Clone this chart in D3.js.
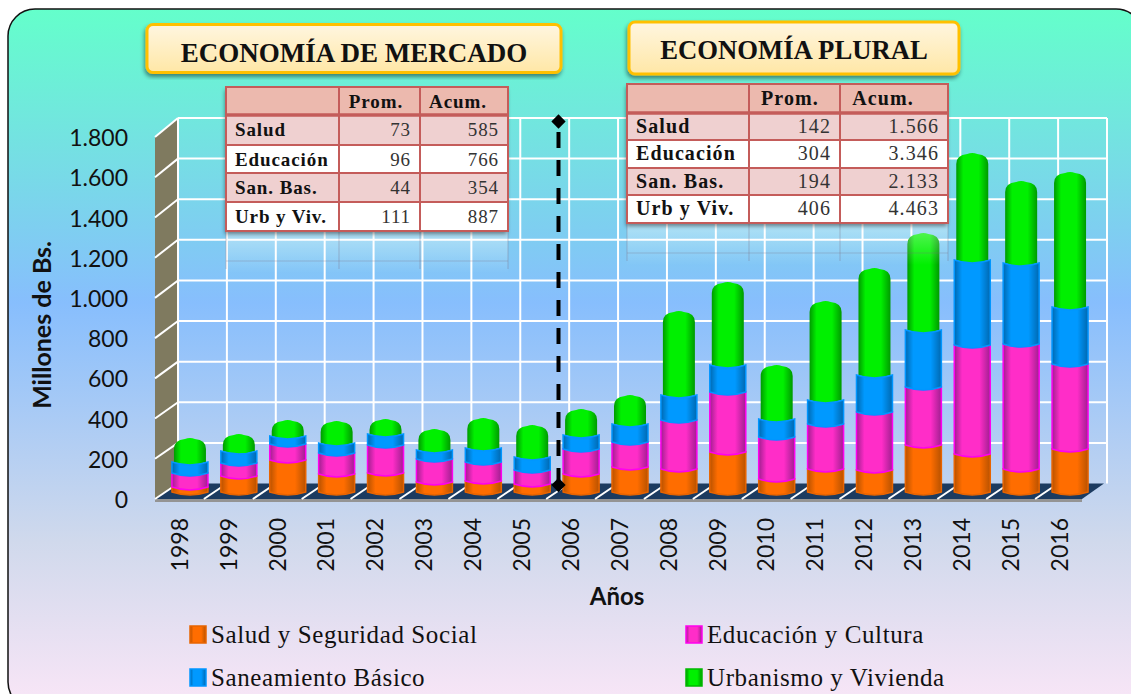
<!DOCTYPE html>
<html>
<head>
<meta charset="utf-8">
<script src="https://cdn.jsdelivr.net/npm/d3@7"></script>
<style>
  html, body { margin: 0; padding: 0; background: #fff; overflow: hidden; }
  svg { display: block; }
  .num { font-family: Lato, sans-serif; fill: #111; }
  .serif { font-family: "Liberation Serif", serif; fill: #111; }
</style>
</head>
<body>
<div class="graph"></div>
<script>
let w = 1131;
let h = 694;

let years = ["1998","1999","2000","2001","2002","2003","2004","2005","2006","2007","2008","2009","2010","2011","2012","2013","2014","2015","2016"];
let salud = [25,80,160,90,95,50,55,40,90,125,115,200,65,115,110,235,190,115,215];
let educacion = [70,65,80,105,140,115,95,70,125,125,245,300,210,225,290,290,545,625,425];
let saneamiento = [55,60,40,50,55,45,70,65,70,90,125,135,90,120,185,285,425,405,285];
let urbanismo = [135,100,95,125,90,120,165,175,145,160,435,430,285,510,550,500,550,425,690];
let yTicks = [0,200,400,600,800,1000,1200,1400,1600,1800];
let seriesKeys = ["salud","educacion","saneamiento","urbanismo"];
let seriesNames = ["Salud y Seguridad Social","Educación y Cultura","Saneamiento Básico","Urbanismo y Vivienda"];

let tableRows = ["Salud","Educación","San. Bas.","Urb y Viv."];
let tableHead = ["","Prom.","Acum."];
let promMercado = ["73","96","44","111"];
let acumMercado = ["585","766","354","887"];
let promPlural = ["142","304","194","406"];
let acumPlural = ["1.566","3.346","2.133","4.463"];

let colors = {
  salud: { side: "#B85200", mid: "#FF6D00", line: "#E86400" },
  educacion: { side: "#A01F90", mid: "#FF2DC8", line: "#FF00F0" },
  saneamiento: { side: "#0068B0", mid: "#0099FF", line: "#0096FF" },
  urbanismo: { side: "#009A00", mid: "#00F000", line: "#00B800" }
};

let svg = d3.select(".graph").append("svg").attr("width", w).attr("height", h);
let defs = svg.append("defs");

let bg = defs.append("linearGradient").attr("id", "bg").attr("x1", 0).attr("y1", 0).attr("x2", 0).attr("y2", 1);
bg.append("stop").attr("offset", "0").attr("stop-color", "#64FFCB");
bg.append("stop").attr("offset", "0.42").attr("stop-color", "#87BEFD");
bg.append("stop").attr("offset", "0.76").attr("stop-color", "#D0D9EC");
bg.append("stop").attr("offset", "1").attr("stop-color", "#FAE6F7");

let boxGrad = defs.append("linearGradient").attr("id", "boxGrad").attr("x1", 0).attr("y1", 0).attr("x2", 0).attr("y2", 1);
boxGrad.append("stop").attr("offset", "0").attr("stop-color", "#FFF6E0");
boxGrad.append("stop").attr("offset", "1").attr("stop-color", "#FFE7A6");

let fade = defs.append("linearGradient").attr("id", "fade").attr("x1", 0).attr("y1", 0).attr("x2", 0).attr("y2", 1);
fade.append("stop").attr("offset", "0").attr("stop-color", "#fff").attr("stop-opacity", 0.4);
fade.append("stop").attr("offset", "1").attr("stop-color", "#fff").attr("stop-opacity", 0);

let shadow = defs.append("filter").attr("id", "shadow").attr("x", "-5%").attr("y", "-10%").attr("width", "110%").attr("height", "125%");
shadow.append("feDropShadow").attr("dx", -1).attr("dy", 3).attr("stdDeviation", 2).attr("flood-color", "#000").attr("flood-opacity", 0.45);

seriesKeys.forEach(function (k) {
  let g = defs.append("linearGradient").attr("id", "grad-" + k);
  g.append("stop").attr("offset", "0").attr("stop-color", colors[k].side);
  g.append("stop").attr("offset", "0.22").attr("stop-color", colors[k].mid);
  g.append("stop").attr("offset", "0.7").attr("stop-color", colors[k].mid);
  g.append("stop").attr("offset", "1").attr("stop-color", colors[k].side);
});

// panel
svg.append("rect")
  .attr("x", 8).attr("y", 9)
  .attr("width", 1135).attr("height", 700)
  .attr("rx", 27)
  .attr("fill", "url(#bg)")
  .attr("stroke", "#111")
  .attr("stroke-width", 1.5);

// front plane of the 3d box and how far the back wall is pushed
let frontL = 155, frontR = 1084;
let depthX = 23, depthY = -16;
let xScale = d3.scaleBand().domain(years).range([frontL, frontR]);
let yScale = d3.scaleLinear().domain([0, 1800]).range([499, 137]);
let backY = d3.scaleLinear().domain([0, 1800]).range([483.5, 118]);
// bars stand a little inside the floor
let barY = d3.scaleLinear().domain([0, 1800]).range([495, 135]);

// left wall and floor
svg.append("polygon")
  .attr("points", [[frontL, yScale(1800)], [frontL + depthX, backY(1800)], [frontL + depthX, backY(0)], [frontL, yScale(0)]].join(" "))
  .attr("fill", "#7F7A5F");
svg.append("polygon")
  .attr("points", [[frontL, yScale(0) + 3], [frontR - 2, yScale(0) + 3], [frontR - 2, yScale(0)], [frontL, yScale(0)]].join(" "))
  .attr("fill", "#949494");
svg.append("polygon")
  .attr("points", [[frontL, yScale(0)], [frontL + depthX, backY(0)], [frontR + depthX - 3, backY(0)], [frontR - 2, yScale(0)]].join(" "))
  .attr("fill", "#1C3B60");

// grid
let grid = svg.append("g").attr("stroke", "#fff").attr("stroke-width", 2).attr("fill", "none");
let gridTicks = yTicks.filter((d) => d > 0);
grid.selectAll(".h").data(gridTicks).enter().append("line")
  .attr("x1", frontL + depthX).attr("x2", frontR + depthX)
  .attr("y1", (d) => backY(d)).attr("y2", (d) => backY(d));
grid.selectAll(".d").data(gridTicks).enter().append("line")
  .attr("x1", frontL).attr("x2", frontL + depthX)
  .attr("y1", (d) => yScale(d)).attr("y2", (d) => backY(d));
grid.selectAll(".v").data(years.concat(["end"])).enter().append("line")
  .attr("x1", (d, i) => frontL + depthX + i * xScale.step())
  .attr("x2", (d, i) => frontL + depthX + i * xScale.step())
  .attr("y1", backY(1800)).attr("y2", backY(0));
grid.selectAll(".f").data(years).enter().append("line")
  .attr("x1", (d, i) => frontL + i * xScale.step())
  .attr("x2", (d, i) => frontL + depthX + i * xScale.step())
  .attr("y1", yScale(0)).attr("y2", backY(0));

// stacked cylinders
let table = years.map(function (y, i) {
  return { year: y, salud: salud[i], educacion: educacion[i], saneamiento: saneamiento[i], urbanismo: urbanismo[i] };
});
let stacked = d3.stack().keys(seriesKeys)(table);
let barW = 36;
let sag = 3;

function bandPath(cx, half, y0, y1) {
  return "M" + (cx - half) + "," + (y1 - sag) +
    "Q" + cx + "," + (y1 + sag) + " " + (cx + half) + "," + (y1 - sag) +
    "L" + (cx + half) + "," + (y0 - sag) +
    "Q" + cx + "," + (y0 + sag) + " " + (cx - half) + "," + (y0 - sag) + "Z";
}
function capPath(cx, half, y0, y1) {
  let r = 11;
  return "M" + (cx - half) + "," + (y0 - sag) +
    "L" + (cx - half) + "," + (y1 + r) +
    "Q" + (cx - half) + "," + (y1 + 2) + " " + (cx - half + r) + "," + (y1 + 1) +
    "Q" + cx + "," + (y1 - 1) + " " + (cx + half - r) + "," + (y1 + 1) +
    "Q" + (cx + half) + "," + (y1 + 2) + " " + (cx + half) + "," + (y1 + r) +
    "L" + (cx + half) + "," + (y0 - sag) +
    "Q" + cx + "," + (y0 + sag) + " " + (cx - half) + "," + (y0 - sag) + "Z";
}

// green goes under the blue ring
let drawOrder = ["salud", "educacion", "urbanismo", "saneamiento"];
drawOrder.forEach(function (k) {
  let s = stacked[seriesKeys.indexOf(k)];
  svg.append("g").selectAll("path").data(s).enter().append("path")
    .attr("d", function (d) {
      let cx = xScale(d.data.year) + xScale.bandwidth() / 2 + 10.5;
      if (k === "urbanismo") return capPath(cx, barW / 2 - 2, barY(d[0]), barY(d[1]));
      return bandPath(cx, barW / 2, barY(d[0]), barY(d[1]));
    })
    .attr("fill", "url(#grad-" + k + ")")
    .attr("stroke", k === "urbanismo" ? "none" : colors[k].line)
    .attr("stroke-width", 1.5);
});

// axes
let yAxis = d3.axisLeft(yScale).tickValues(yTicks).tickSize(0)
  .tickFormat((d) => d3.format(",")(d).replace(",", "."));
let yG = svg.append("g").attr("transform", "translate(128,0.5)").call(yAxis);
yG.select(".domain").remove();
yG.selectAll("text").attr("class", "num").attr("x", 0).style("font-size", "23px").attr("dy", "0.35em");

let xAxis = d3.axisBottom(xScale).tickSize(0);
let xG = svg.append("g").attr("transform", "translate(0,512)").call(xAxis);
xG.select(".domain").remove();
xG.selectAll("text").attr("class", "num")
  .style("font-size", "23px")
  .attr("text-anchor", "end")
  .attr("transform", "rotate(-90)")
  .attr("x", -6).attr("y", 0).attr("dx", 0).attr("dy", "0.36em");

svg.append("text").attr("class", "num")
  .attr("x", 617).attr("y", 605)
  .attr("text-anchor", "middle")
  .style("font-size", "24px").style("font-weight", 700)
  .text("Años");
svg.append("text").attr("class", "num")
  .attr("transform", "translate(51,325) rotate(-90)")
  .attr("text-anchor", "middle")
  .style("font-size", "25px").style("font-weight", 700)
  .text("Millones de Bs.");

// divider between the two periods
svg.append("line")
  .attr("x1", 558.5).attr("x2", 558.5)
  .attr("y1", 132).attr("y2", 480)
  .attr("stroke", "#000").attr("stroke-width", 4)
  .attr("stroke-dasharray", "16 12");
svg.selectAll(".diamond").data([121.5, 485]).enter().append("path")
  .attr("d", d3.symbol().type(d3.symbolDiamond2).size(130))
  .attr("transform", (d) => "translate(558.5," + d + ")")
  .attr("fill", "#000");

// title boxes
function titleBox(text, x, y, bw, bh, size, dy) {
  svg.append("rect")
    .attr("x", x).attr("y", y).attr("width", bw).attr("height", bh)
    .attr("rx", 6)
    .attr("fill", "url(#boxGrad)")
    .attr("stroke", "#FFC000").attr("stroke-width", 3)
    .attr("filter", "url(#shadow)");
  svg.append("text").attr("class", "serif")
    .attr("x", x + bw / 2).attr("y", y + bh / 2 + dy)
    .attr("text-anchor", "middle")
    .style("font-size", size + "px").style("font-weight", 700)
    .text(text);
}
titleBox("ECONOMÍA DE MERCADO", 147, 24.5, 414, 48, 27, 13);
titleBox("ECONOMÍA PLURAL", 629, 22, 330, 52, 26.7, 11);

// small data tables
function dataTable(prom, acum, xs, ys, rowGap, headX, size, spacing) {
  let x0 = xs[0], x3 = xs[3], yEnd = ys[ys.length - 1];

  // washed out reflection below the table
  svg.append("rect").attr("x", x0).attr("y", yEnd).attr("width", x3 - x0).attr("height", 42).attr("fill", "url(#fade)");
  svg.selectAll(null).data(xs).enter().append("line")
    .attr("x1", (d) => d).attr("x2", (d) => d)
    .attr("y1", yEnd).attr("y2", yEnd + 38)
    .attr("stroke", "#7A6A80").attr("stroke-opacity", 0.18).attr("stroke-width", 2);
  svg.append("line").attr("x1", x0).attr("x2", x3).attr("y1", yEnd + 30).attr("y2", yEnd + 30)
    .attr("stroke", "#7A6A80").attr("stroke-opacity", 0.15).attr("stroke-width", 2);

  let g = svg.append("g").attr("filter", "url(#shadow)");
  g.append("rect").attr("x", x0).attr("y", ys[0]).attr("width", x3 - x0).attr("height", ys[1] - ys[0]).attr("fill", "#ECB9AE");
  tableRows.forEach(function (r, i) {
    g.append("rect").attr("x", x0).attr("y", ys[i + 1]).attr("width", x3 - x0).attr("height", ys[i + 2] - ys[i + 1])
      .attr("fill", i % 2 === 0 ? "#EFD0D0" : "#fff");
  });
  let line = svg.append("g").attr("stroke", "#C45C5A").attr("stroke-width", 2);
  xs.forEach(function (x) {
    line.append("line").attr("x1", x).attr("x2", x).attr("y1", ys[0]).attr("y2", yEnd);
  });
  ys.forEach(function (y, i) {
    line.append("line").attr("x1", x0 - 1).attr("x2", x3 + 1).attr("y1", y).attr("y2", y).attr("stroke-width", i === 1 ? 3.5 : 2);
  });

  tableHead.forEach(function (t, i) {
    if (!t) return;
    svg.append("text").attr("class", "serif")
      .attr("x", headX[i - 1]).attr("y", ys[0] + 21)
      .attr("text-anchor", "middle")
      .style("font-size", size + "px").style("font-weight", 700).style("letter-spacing", spacing + "px")
      .text(t);
  });
  tableRows.forEach(function (r, i) {
    let by = ys[i + 1] + rowGap;
    svg.append("text").attr("class", "serif").attr("x", x0 + 9).attr("y", by)
      .style("font-size", size + "px").style("font-weight", 700).style("letter-spacing", spacing + "px").text(r);
    svg.append("text").attr("class", "serif").attr("x", xs[2] - 9).attr("y", by).attr("text-anchor", "end")
      .style("font-size", size + "px").style("fill", "#333").style("letter-spacing", spacing + "px").text(prom[i]);
    svg.append("text").attr("class", "serif").attr("x", x3 - 9).attr("y", by).attr("text-anchor", "end")
      .style("font-size", size + "px").style("fill", "#333").style("letter-spacing", spacing + "px").text(acum[i]);
  });
}
dataTable(promMercado, acumMercado, [226, 339, 420, 508], [87, 115, 145, 173, 202, 231], 21, [376, 458], 19, 0.9);
dataTable(promPlural, acumPlural, [627, 749, 840, 948], [84, 113, 140, 168, 195, 223], 20, [790, 883], 20, 1.1);

// legend
let legendX = [190, 686];
let legendY = [626, 669];
let legend = svg.selectAll(".legend").data(seriesKeys).enter().append("g")
  .attr("transform", (d, i) => "translate(" + legendX[i % 2] + "," + legendY[Math.floor(i / 2)] + ")");
legend.append("rect")
  .attr("width", 16).attr("height", 17)
  .attr("fill", (d) => "url(#grad-" + d + ")")
  .attr("stroke", (d) => colors[d].line).attr("stroke-width", 1.5);
legend.append("text").attr("class", "serif")
  .attr("x", 21).attr("y", 17)
  .style("font-size", "25px")
  .style("letter-spacing", "0.6px")
  .text((d, i) => seriesNames[i]);
</script>
</body>
</html>
